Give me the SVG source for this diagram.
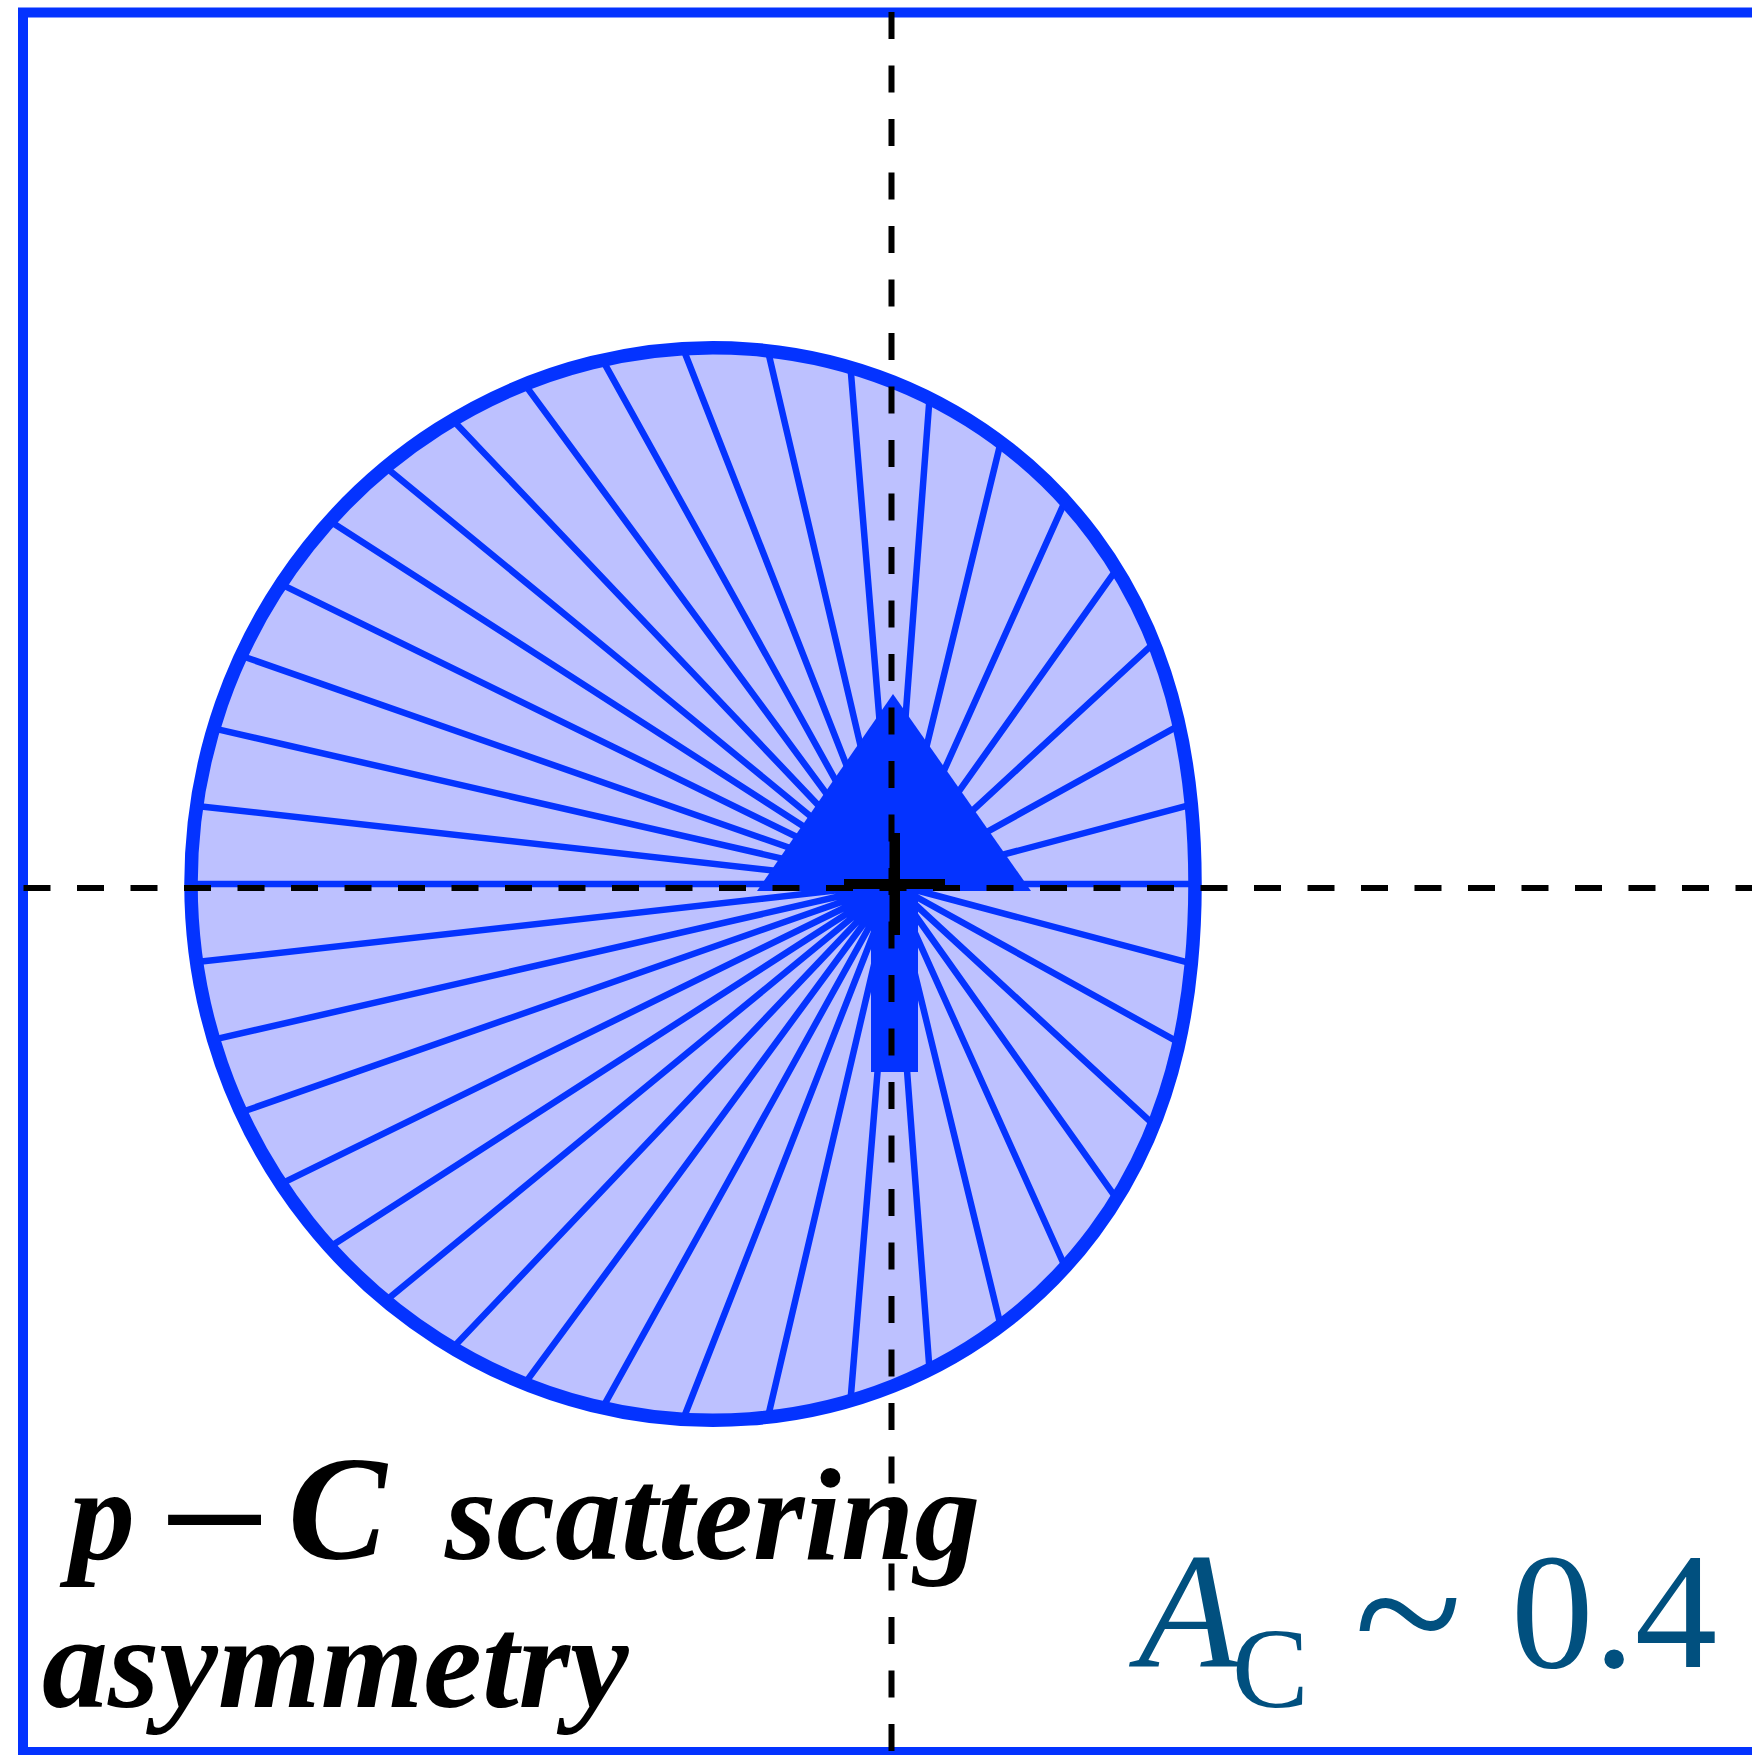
<svg xmlns="http://www.w3.org/2000/svg" width="1752" height="1755" viewBox="0 0 1752 1755">
<style>
.blue{fill:#0433FF}
.ray{stroke:#0433FF;stroke-width:6.5;fill:none}
.dash{stroke:#000;stroke-width:6;stroke-dasharray:27 26.5;fill:none}
.lbl{font-family:"Liberation Serif","Times New Roman",serif;font-weight:bold;font-style:italic;fill:#000}
.ac{font-family:"Liberation Serif","Times New Roman",serif;fill:#01507F}
</style>
<defs>
<path id="limacon" d="M1195 884 C1195 857.65 1193.9 831.27 1191.29 804.07 C1188.68 776.87 1184.54 748.81 1177.75 719.6 C1170.96 690.39 1161.49 660.01 1147.97 629.03 C1134.45 598.05 1116.82 566.49 1094 535.86 C1071.18 505.23 1043.12 475.56 1009.53 449.11 C975.94 422.66 936.81 399.45 893 382 C849.19 364.55 800.72 352.89 749.68 349.11 C698.64 345.33 645.05 349.47 592 362.65 C538.95 375.83 486.46 398.05 438.03 429.03 C389.6 460.01 345.28 499.73 308.26 546.4 C271.24 593.07 241.57 646.64 221.5 704.07 C201.43 761.5 191 822.74 191 884 C191 945.26 201.43 1006.5 221.5 1063.93 C241.57 1121.36 271.24 1174.93 308.26 1221.6 C345.28 1268.27 389.6 1307.99 438.03 1338.97 C486.46 1369.95 538.95 1392.17 592 1405.35 C645.05 1418.53 698.64 1422.67 749.68 1418.89 C800.72 1415.11 849.19 1403.45 893 1386 C936.81 1368.55 975.94 1345.34 1009.53 1318.89 C1043.12 1292.44 1071.18 1262.77 1094 1232.14 C1116.82 1201.51 1134.45 1169.95 1147.97 1138.97 C1161.49 1107.99 1170.96 1077.61 1177.75 1048.4 C1184.54 1019.19 1188.68 991.13 1191.29 963.93 C1193.9 936.73 1195 910.35 1195 884 Z"/>
</defs>
<g id="frame">
<rect x="23" y="12.5" width="1800" height="1739.5" fill="#fff" stroke="#0433FF" stroke-width="10"/>
</g>
<g id="distribution">
<use href="#limacon" fill="#BDC1FF"/>
<path class="ray" d="M893 884L1195 884M893 884L1191.3 804.6M893 884L1179.1 725.4M893 884L1153.9 643.2M893 884L1116.7 569.2M893 884L1065.2 500.9M893 884L1000.7 442.3M893 884L929.5 398.4M893 884L850.5 367.4M893 884L767.9 350.8M893 884L683.2 348.7M893 884L602.6 360.1M893 884L524.7 384.4M893 884L452.7 420M893 884L385.7 467.3M893 884L329.7 521M893 884L280.9 584.1M893 884L241.1 655.7M893 884L213.6 728.4M893 884L196.6 805.9M893 884L191 884M893 884L1191.3 963.4M893 884L1179.1 1042.6M893 884L1153.9 1124.8M893 884L1116.7 1198.8M893 884L1065.2 1267.1M893 884L1000.7 1325.7M893 884L929.5 1369.6M893 884L850.5 1400.6M893 884L767.9 1417.2M893 884L683.2 1419.3M893 884L602.6 1407.9M893 884L524.7 1383.6M893 884L452.7 1348M893 884L385.7 1300.7M893 884L329.7 1247M893 884L280.9 1183.9M893 884L241.1 1112.3M893 884L213.6 1039.6M893 884L196.6 962.1"/>
<use href="#limacon" fill="none" stroke="#0433FF" stroke-width="13.5"/>
</g>
<g id="spin-arrow">
<polygon class="blue" points="893,694 757,891 1031,891"/>
<rect class="blue" x="871" y="888" width="47" height="184"/>
</g>
<g id="axes">
<line class="dash" x1="23.5" y1="888" x2="1752" y2="888"/>
<line class="dash" x1="891.5" y1="12" x2="891.5" y2="1755"/>
</g>
<g id="center-cross">
<rect x="844" y="879" width="101" height="10" fill="#000"/>
<rect x="889.5" y="833" width="10.5" height="102" fill="#000"/>
</g>
<g id="label-process">
<text class="lbl" y="1559"><tspan x="69" font-size="132">p</tspan><tspan x="288" font-size="148">C</tspan><tspan x="445" font-size="132">scattering</tspan></text>
<text class="lbl" transform="translate(152 1569) scale(1.35 1)" x="0" y="0" font-size="148">−</text>
<text class="lbl" x="42" y="1707" font-size="132">asymmetry</text>
</g>
<g id="label-value">
<text class="ac" x="1138" y="1667" font-size="165" font-style="italic">A</text>
<text class="ac" x="1232" y="1707" font-size="115">C</text>
<text class="ac" x="1354" y="1680" font-size="200">~</text>
<text class="ac" x="1511" y="1667" font-size="165">0.4</text>
</g>
</svg>
